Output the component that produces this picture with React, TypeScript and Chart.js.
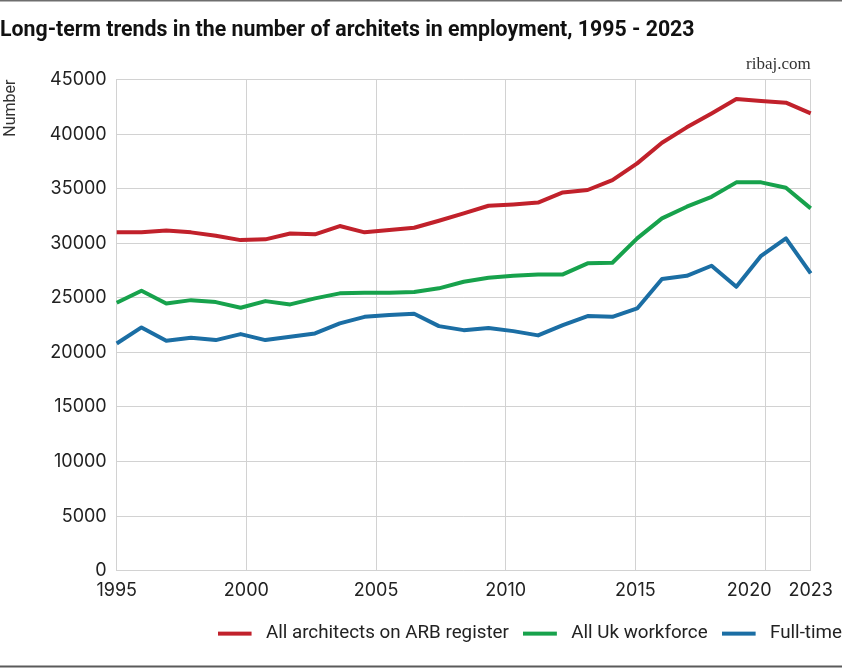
import React, { useEffect, useRef } from 'react';
import { Chart, registerables } from 'chart.js';

Chart.register(...registerables);

// ---- data ----
const YEARS = [
  '1995', '1996', '1997', '1998', '1999', '2000', '2001', '2002', '2003', '2004',
  '2005', '2006', '2007', '2008', '2009', '2010', '2011', '2012', '2013', '2014',
  '2015', '2016', '2017', '2018', '2019', '2020', '2021', '2022', '2023',
];
const ARB_REGISTER = [
  31000, 31000, 31180, 31000, 30690, 30290, 30360, 30900, 30820, 31580,
  31000, 31210, 31420, 32060, 32740, 33440, 33560, 33730, 34660, 34880,
  35790, 37320, 39210, 40620, 41900, 43220, 43030, 42880, 41900,
];
const UK_WORKFORCE = [
  24550, 25650, 24490, 24790, 24610, 24090, 24700, 24400, 24950, 25410,
  25460, 25460, 25530, 25870, 26470, 26840, 27020, 27150, 27150, 28160,
  28220, 30450, 32280, 33350, 34260, 35580, 35580, 35090, 33200,
];
const FULL_TIME = [
  20820, 22290, 21060, 21340, 21130, 21680, 21130, 21430, 21740, 22660,
  23260, 23420, 23540, 22410, 22040, 22230, 21950, 21560, 22500, 23330,
  23260, 24030, 26720, 27020, 27940, 26010, 28850, 30450, 27240,
];
const SERIES_LABELS = ['All architects on ARB register', 'All Uk workforce', 'Full-time'];
const SERIES_COLORS = ['#c1212b', '#17a24c', '#1b6ea4'];
const GRID_YEARS = [1995, 2000, 2005, 2010, 2015, 2020];
const LAST_TICK_LABEL = '2023';
const GRID_AXIS_END = 2021.76;
const Y_TICKS_STEP = 5000;
const Y_MAX = 45000;

const TITLE = 'Long-term trends in the number of architets in employment, 1995 - 2023';
const SOURCE = 'ribaj.com';

const TICK_FONT = 'Inter, "DejaVu Sans", sans-serif';
const TEXT_FONT = 'Roboto, "Liberation Sans", sans-serif';
const GRID_COLOR = '#d2d2d2';
const TEXT_COLOR = '#222222';

// legend swatch: a short line on a slightly wider transparent box
const LEGEND_LINE_W = 34;
const LEGEND_SWATCH_W = 39;
const makeSwatch = (color: string) => {
  const c = document.createElement('canvas');
  c.width = LEGEND_SWATCH_W;
  c.height = 6;
  const g = c.getContext('2d');
  if (g) {
    g.fillStyle = color;
    g.fillRect(0, 1, LEGEND_LINE_W, 4);
  }
  return c;
};

const pagePlugin = {
  id: 'pageDecor',
  beforeDraw(chart: any) {
    const { ctx, width, height } = chart;
    ctx.save();
    ctx.fillStyle = '#ffffff';
    ctx.fillRect(0, 0, width, height);
    ctx.restore();
  },
  afterDraw(chart: any) {
    const { ctx, width } = chart;
    ctx.save();
    ctx.fillStyle = '#6e6e6e';
    ctx.fillRect(0, 0, width, 1.5);
    ctx.fillStyle = '#5a5a5a';
    ctx.fillRect(0, 665.5, width, 2);
    ctx.restore();
  },
};

const xLabelPlugin = {
  id: 'xLabels',
  afterDraw(chart: any) {
    const scale = chart.scales.xg;
    if (!scale) return;
    const ctx = chart.ctx;
    ctx.save();
    ctx.font = `18px ${TICK_FONT}`;
    ctx.fillStyle = TEXT_COLOR;
    ctx.textBaseline = 'alphabetic';
    ctx.textAlign = 'left';
    const items = scale.ticks.map((t: any, i: number) => {
      const label = String(t.label);
      const w = ctx.measureText(label).width;
      const c = scale.getPixelForTick(i);
      return { label, w, left: c - w / 2 };
    });
    const visibleRight = 840;
    const last = items[items.length - 1];
    if (last.left + last.w > visibleRight) last.left = visibleRight - last.w;
    for (let i = items.length - 2; i >= 0; i--) {
      const cur = items[i];
      const next = items[i + 1];
      if (cur.left + cur.w + 17 > next.left) cur.left = next.left - 17 - cur.w;
    }
    const y = scale.top + 25.5;
    items.forEach((it: any) => ctx.fillText(it.label, it.left, y));
    ctx.restore();
  },
};

export default function App() {
  const canvasRef = useRef<HTMLCanvasElement | null>(null);

  useEffect(() => {
    const canvas = canvasRef.current;
    if (!canvas) return;
    const swatches = SERIES_COLORS.map(makeSwatch);
    const mk = (label: string, data: number[], color: string) => ({
      label,
      data,
      borderColor: color,
      backgroundColor: color,
      borderWidth: 4,
      pointRadius: 0,
      pointHoverRadius: 0,
      tension: 0,
      fill: false,
      borderJoinStyle: 'round' as const,
    });
    const chart = new Chart(canvas, {
      type: 'line',
      data: {
        labels: YEARS,
        datasets: [
          mk(SERIES_LABELS[0], ARB_REGISTER, SERIES_COLORS[0]),
          mk(SERIES_LABELS[1], UK_WORKFORCE, SERIES_COLORS[1]),
          mk(SERIES_LABELS[2], FULL_TIME, SERIES_COLORS[2]),
        ],
      },
      options: {
        responsive: false,
        animation: false,
        layout: { padding: { left: 0, right: 0, top: 0, bottom: 15 } },
        scales: {
          x: { type: 'category', display: false, offset: false },
          xg: {
            type: 'linear',
            position: 'bottom',
            min: GRID_YEARS[0],
            max: GRID_AXIS_END,
            afterBuildTicks: (axis: any) => {
              axis.ticks = [...GRID_YEARS, GRID_AXIS_END].map((v) => ({ value: v }));
            },
            afterFit: (axis: any) => {
              axis.height = 39.5;
            },
            grid: { color: GRID_COLOR, lineWidth: 1, drawTicks: false },
            border: { display: false },
            ticks: {
              color: 'rgba(0,0,0,0)',
              font: { size: 18, family: TICK_FONT },
              padding: 12,
              autoSkip: false,
              maxRotation: 0,
              callback: (v: any) => (v === GRID_AXIS_END ? LAST_TICK_LABEL : String(v)),
            },
          },
          y: {
            type: 'linear',
            position: 'left',
            min: 0,
            max: Y_MAX,
            afterFit: (axis: any) => {
              axis.width = 116.7;
            },
            ticks: {
              stepSize: Y_TICKS_STEP,
              color: TEXT_COLOR,
              font: { size: 18, family: TICK_FONT },
              padding: 10,
              callback: (v: any) => String(v),
            },
            grid: { color: GRID_COLOR, lineWidth: 1, drawTicks: false },
            border: { color: GRID_COLOR, width: 1 },
            title: {
              display: true,
              text: 'Number',
              align: 'end',
              color: '#333333',
              font: { size: 16, family: TEXT_FONT },
              padding: { top: 1, bottom: 0 },
            },
          },
          yr: {
            type: 'linear',
            position: 'right',
            display: true,
            grid: { display: false },
            border: { display: false },
            ticks: { display: false },
            afterFit: (axis: any) => {
              axis.width = 45.3;
            },
          },
        },
        plugins: {
          title: {
            display: true,
            text: TITLE,
            align: 'start',
            color: '#111111',
            font: { size: 21.3, weight: 'bold', family: TEXT_FONT },
            padding: { top: 18, bottom: 11 },
          },
          subtitle: {
            display: true,
            text: SOURCE,
            align: 'end',
            fullSize: false,
            color: '#333333',
            font: { size: 17, family: '"Liberation Serif", "DejaVu Serif", serif' },
            padding: { top: 0, bottom: 4.6 },
          },
          legend: {
            display: true,
            position: 'bottom',
            align: 'end',
            labels: {
              usePointStyle: true,
              pointStyleWidth: LEGEND_SWATCH_W,
              boxHeight: 4,
              padding: 14,
              color: TEXT_COLOR,
              font: { size: 18.8, family: TEXT_FONT },
              generateLabels: (c: any) =>
                (Chart.defaults.plugins.legend.labels.generateLabels as any)(c).map(
                  (l: any, i: number) => ({
                    ...l,
                    lineWidth: 0,
                    fillStyle: l.strokeStyle,
                    pointStyle: swatches[i],
                  })
                ),
            },
          },
          tooltip: { enabled: false },
        },
      },
      plugins: [pagePlugin, xLabelPlugin],
    });
    return () => chart.destroy();
  }, []);

  return (
    <div
      style={{
        position: 'fixed',
        left: 0,
        top: 0,
        width: 842,
        height: 668,
        overflow: 'hidden',
        background: '#fff',
      }}
    >
      <canvas ref={canvasRef} width={856} height={668} style={{ display: 'block', width: 856, height: 668 }} />
    </div>
  );
}
